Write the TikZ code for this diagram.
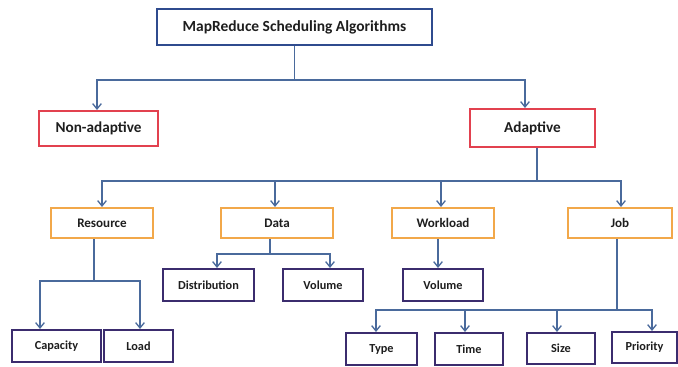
\documentclass[tikz,border=0pt]{standalone}
\usepackage{fontspec}
\setmainfont{Carlito}
\usetikzlibrary{arrows.meta,calc}

\definecolor{rootblue}{HTML}{2F4B8E}
\definecolor{redline}{HTML}{E2414F}
\definecolor{orangeline}{HTML}{F2A84A}
\definecolor{leafpurple}{HTML}{3B2C6E}
\definecolor{linkblue}{HTML}{4A6A9C}
\definecolor{labeltext}{HTML}{1E1E1E}

\tikzset{
  box/.style={draw, line width=1.5pt, fill=white, inner sep=0pt,
    font=\bfseries, text=labeltext},
  rootbox/.style={box, draw=rootblue, font=\bfseries\fontsize{11.6}{13}\selectfont},
  kindbox/.style={box, draw=redline, font=\bfseries\fontsize{11.4}{13}\selectfont},
  facetbox/.style={box, draw=orangeline, font=\bfseries\fontsize{9.8}{11}\selectfont},
  leafbox/.style={box, draw=leafpurple, font=\bfseries\fontsize{9.2}{10}\selectfont},
  link/.style={draw=linkblue, line width=1.1pt},
  arr/.style={link, -{Straight Barb[length=4pt,width=6.5pt,line width=1pt]}},
}

\begin{document}
\begin{tikzpicture}[x=0.75pt,y=-0.75pt]
  \useasboundingbox (0,0) rectangle (678,367);

  % root
  \node[rootbox, minimum width=275*0.75pt, minimum height=36*0.75pt] (root) at (294.5,27) {MapReduce Scheduling Algorithms};

  % adaptive / non-adaptive
  \node[kindbox, minimum width=119*0.75pt, minimum height=35*0.75pt] (nonad) at (98.5,128.5) {Non-adaptive};
  \node[kindbox, minimum width=125*0.75pt, minimum height=38*0.75pt] (adapt) at (532.5,128) {Adaptive};

  % facets of adaptive scheduling
  \node[facetbox, minimum width=102*0.75pt, minimum height=30*0.75pt] (res) at (102,223) {Resource};
  \node[facetbox, minimum width=112*0.75pt, minimum height=30*0.75pt] (data) at (277,223) {Data};
  \node[facetbox, minimum width=102*0.75pt, minimum height=30*0.75pt] (work) at (443,223) {Workload};
  \node[facetbox, minimum width=104*0.75pt, minimum height=30*0.75pt] (job) at (620,223) {Job};

  % leaves
  \node[leafbox, minimum width=89*0.75pt, minimum height=32*0.75pt] (cap) at (56.5,346) {Capacity};
  \node[leafbox, minimum width=69*0.75pt, minimum height=32*0.75pt] (load) at (138.5,346) {Load};
  \node[leafbox, minimum width=91*0.75pt, minimum height=32*0.75pt] (dist) at (208.5,285) {Distribution};
  \node[leafbox, minimum width=80*0.75pt, minimum height=32*0.75pt] (dvol) at (323,285) {Volume};
  \node[leafbox, minimum width=80*0.75pt, minimum height=32*0.75pt] (wvol) at (443,285) {Volume};
  \node[leafbox, minimum width=71*0.75pt, minimum height=32*0.75pt] (type) at (381.5,349) {Type};
  \node[leafbox, minimum width=68*0.75pt, minimum height=32*0.75pt] (time) at (469,349) {Time};
  \node[leafbox, minimum width=68*0.75pt, minimum height=31*0.75pt] (size) at (561,348.5) {Size};
  \node[leafbox, minimum width=65*0.75pt, minimum height=31*0.75pt] (prio) at (644.5,347.5) {Priority};

  % root -> kinds
  \coordinate (b1) at ($(root.south)+(0,34)$);
  \draw[link] (root.south) -- (b1);
  \draw[arr] (b1) -| ($(nonad.north)+(-1.5,0)$);
  \draw[arr] (b1) -| ($(adapt.north)+(-7.5,0)$);

  % adaptive -> facets
  \coordinate (a0) at ($(adapt.south)+(4.5,0)$);
  \coordinate (b2) at ($(a0)+(0,33)$);
  \draw[link] (a0) -- (b2);
  \draw[arr] (b2) -| (res.north);
  \draw[arr] (b2) -| ($(data.north)+(-2,0)$);
  \draw[arr] (b2) -| ($(work.north)+(-2,0)$);
  \draw[arr] (b2) -| ($(job.north)+(1,0)$);

  % resource -> capacity, load
  \coordinate (r0) at ($(res.south)+(-8,0)$);
  \coordinate (b3) at ($(r0)+(0,42)$);
  \draw[link] (r0) -- (b3);
  \draw[arr] (b3) -| ($(cap.north)+(-16.5,0)$);
  \draw[arr] (b3) -| ($(load.north)+(1.5,0)$);

  % data -> distribution, volume
  \coordinate (d0) at ($(data.south)+(-7,0)$);
  \coordinate (b4) at ($(d0)+(0,15)$);
  \draw[link] (d0) -- (b4);
  \draw[arr] (b4) -| ($(dist.north)+(8.5,0)$);
  \draw[arr] (b4) -| ($(dvol.north)+(7,0)$);

  % workload -> volume
  \draw[arr] ($(work.south)+(-5,0)$) -- ($(wvol.north)+(-5,0)$);

  % job -> type, time, size, priority
  \coordinate (j0) at ($(job.south)+(-3,0)$);
  \coordinate (b5) at ($(j0)+(0,71)$);
  \draw[link] (j0) -- (b5);
  \draw[arr] (b5) -| ($(type.north)+(-5.5,0)$);
  \draw[arr] (b5) -| ($(time.north)+(-4,0)$);
  \draw[arr] (b5) -| ($(size.north)+(-4,0)$);
  \draw[arr] (b5) -| ($(prio.north)+(7.5,0)$);
\end{tikzpicture}
\end{document}
